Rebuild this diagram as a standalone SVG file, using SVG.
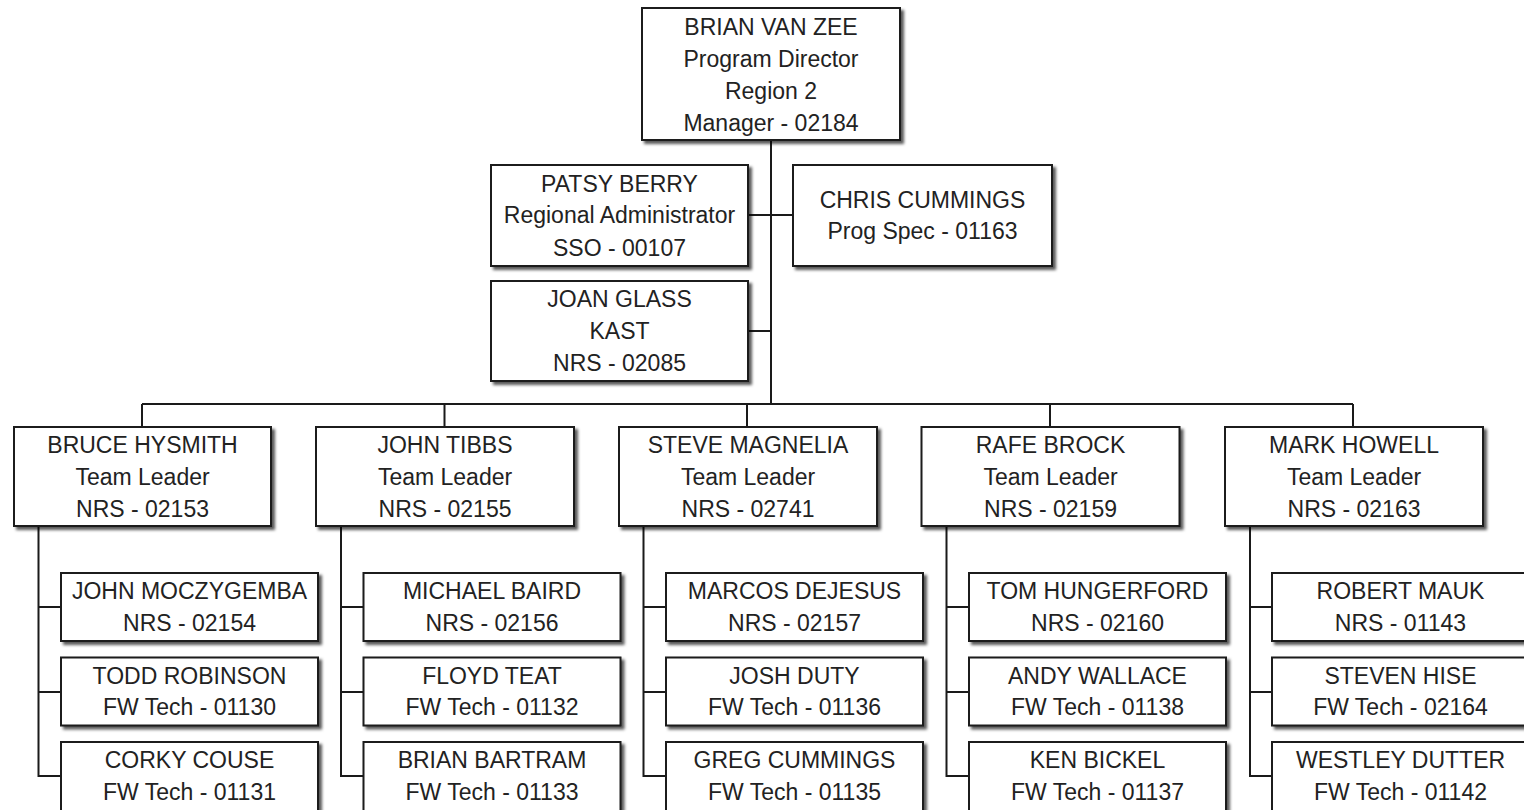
<svg xmlns="http://www.w3.org/2000/svg" width="1524" height="810" viewBox="0 0 1524 810">
<defs>
<filter id="sh" x="-5%" y="-5%" width="115%" height="125%">
<feDropShadow dx="3" dy="3" stdDeviation="1.4" flood-color="#000" flood-opacity="0.65"/>
</filter>
<style>
.b{fill:#fff;stroke:#1a1a1a;stroke-width:2;filter:url(#sh)}
.t{font-family:"Liberation Sans",Arial,sans-serif;font-size:23px;fill:#222;text-anchor:middle}
.c{fill:none;stroke:#1a1a1a;stroke-width:2}
</style>
</defs>
<rect width="1524" height="810" fill="#fff"/>
<g id="connectors">
<path class="c" d="M771 140V404M748 215H793M748 331H771M142 404H1353"/>
<path class="c" d="M142 404V427M444.5 404V427M747 404V427M1050 404V427M1353 404V427"/>
<path class="c" d="M38.5 526V777M38.5 607H61M38.5 692H61M38.5 776H61"/>
<path class="c" d="M341 526V777M341 607H363.5M341 692H363.5M341 776H363.5"/>
<path class="c" d="M643.5 526V777M643.5 607H666M643.5 692H666M643.5 776H666"/>
<path class="c" d="M946.5 526V777M946.5 607H969M946.5 692H969M946.5 776H969"/>
<path class="c" d="M1250 526V777M1250 607H1272M1250 692H1272M1250 776H1272"/>
</g>
<g id="n-brian"><rect class="b" x="642" y="8" width="258" height="132"/>
<text class="t" x="771" y="35">BRIAN VAN ZEE</text><text class="t" x="771" y="67">Program Director</text><text class="t" x="771" y="99">Region 2</text><text class="t" x="771" y="131">Manager - 02184</text></g>
<g id="n-patsy"><rect class="b" x="491" y="165" width="257" height="101"/>
<text class="t" x="619.5" y="192">PATSY BERRY</text><text class="t" x="619.5" y="223">Regional Administrator</text><text class="t" x="619.5" y="256">SSO - 00107</text></g>
<g id="n-chris"><rect class="b" x="793" y="165" width="259" height="101"/>
<text class="t" x="922.5" y="208">CHRIS CUMMINGS</text><text class="t" x="922.5" y="239">Prog Spec - 01163</text></g>
<g id="n-joan"><rect class="b" x="491" y="281" width="257" height="100"/>
<text class="t" x="619.5" y="307">JOAN GLASS</text><text class="t" x="619.5" y="339">KAST</text><text class="t" x="619.5" y="371">NRS - 02085</text></g>

<g id="n-bruce"><rect class="b" x="14" y="427" width="257" height="99"/>
<text class="t" x="142.5" y="453">BRUCE HYSMITH</text><text class="t" x="142.5" y="485">Team Leader</text><text class="t" x="142.5" y="517">NRS - 02153</text></g>
<g id="n-tibbs"><rect class="b" x="316" y="427" width="258" height="99"/>
<text class="t" x="445" y="453">JOHN TIBBS</text><text class="t" x="445" y="485">Team Leader</text><text class="t" x="445" y="517">NRS - 02155</text></g>
<g id="n-steve"><rect class="b" x="619" y="427" width="258" height="99"/>
<text class="t" x="748" y="453">STEVE MAGNELIA</text><text class="t" x="748" y="485">Team Leader</text><text class="t" x="748" y="517">NRS - 02741</text></g>
<g id="n-rafe"><rect class="b" x="921.5" y="427" width="258" height="99"/>
<text class="t" x="1050.5" y="453">RAFE BROCK</text><text class="t" x="1050.5" y="485">Team Leader</text><text class="t" x="1050.5" y="517">NRS - 02159</text></g>
<g id="n-mark"><rect class="b" x="1225" y="427" width="258" height="99"/>
<text class="t" x="1354" y="453">MARK HOWELL</text><text class="t" x="1354" y="485">Team Leader</text><text class="t" x="1354" y="517">NRS - 02163</text></g>

<g id="n-moczygemba"><rect class="b" x="61" y="573" width="257" height="68"/>
<text class="t" x="189.5" y="599">JOHN MOCZYGEMBA</text><text class="t" x="189.5" y="631">NRS - 02154</text></g>
<g id="n-robinson"><rect class="b" x="61" y="657.5" width="257" height="68"/>
<text class="t" x="189.5" y="684">TODD ROBINSON</text><text class="t" x="189.5" y="715">FW Tech - 01130</text></g>
<g id="n-couse"><rect class="b" x="61" y="742" width="257" height="70"/>
<text class="t" x="189.5" y="768">CORKY COUSE</text><text class="t" x="189.5" y="800">FW Tech - 01131</text></g>

<g id="n-baird"><rect class="b" x="363.5" y="573" width="257" height="68"/>
<text class="t" x="492" y="599">MICHAEL BAIRD</text><text class="t" x="492" y="631">NRS - 02156</text></g>
<g id="n-teat"><rect class="b" x="363.5" y="657.5" width="257" height="68"/>
<text class="t" x="492" y="684">FLOYD TEAT</text><text class="t" x="492" y="715">FW Tech - 01132</text></g>
<g id="n-bartram"><rect class="b" x="363.5" y="742" width="257" height="70"/>
<text class="t" x="492" y="768">BRIAN BARTRAM</text><text class="t" x="492" y="800">FW Tech - 01133</text></g>

<g id="n-dejesus"><rect class="b" x="666" y="573" width="257" height="68"/>
<text class="t" x="794.5" y="599">MARCOS DEJESUS</text><text class="t" x="794.5" y="631">NRS - 02157</text></g>
<g id="n-duty"><rect class="b" x="666" y="657.5" width="257" height="68"/>
<text class="t" x="794.5" y="684">JOSH DUTY</text><text class="t" x="794.5" y="715">FW Tech - 01136</text></g>
<g id="n-gcummings"><rect class="b" x="666" y="742" width="257" height="70"/>
<text class="t" x="794.5" y="768">GREG CUMMINGS</text><text class="t" x="794.5" y="800">FW Tech - 01135</text></g>

<g id="n-hungerford"><rect class="b" x="969" y="573" width="257" height="68"/>
<text class="t" x="1097.5" y="599">TOM HUNGERFORD</text><text class="t" x="1097.5" y="631">NRS - 02160</text></g>
<g id="n-wallace"><rect class="b" x="969" y="657.5" width="257" height="68"/>
<text class="t" x="1097.5" y="684">ANDY WALLACE</text><text class="t" x="1097.5" y="715">FW Tech - 01138</text></g>
<g id="n-bickel"><rect class="b" x="969" y="742" width="257" height="70"/>
<text class="t" x="1097.5" y="768">KEN BICKEL</text><text class="t" x="1097.5" y="800">FW Tech - 01137</text></g>

<g id="n-mauk"><rect class="b" x="1272" y="573" width="257" height="68"/>
<text class="t" x="1400.5" y="599">ROBERT MAUK</text><text class="t" x="1400.5" y="631">NRS - 01143</text></g>
<g id="n-hise"><rect class="b" x="1272" y="657.5" width="257" height="68"/>
<text class="t" x="1400.5" y="684">STEVEN HISE</text><text class="t" x="1400.5" y="715">FW Tech - 02164</text></g>
<g id="n-dutter"><rect class="b" x="1272" y="742" width="257" height="70"/>
<text class="t" x="1400.5" y="768">WESTLEY DUTTER</text><text class="t" x="1400.5" y="800">FW Tech - 01142</text></g>
</svg>
